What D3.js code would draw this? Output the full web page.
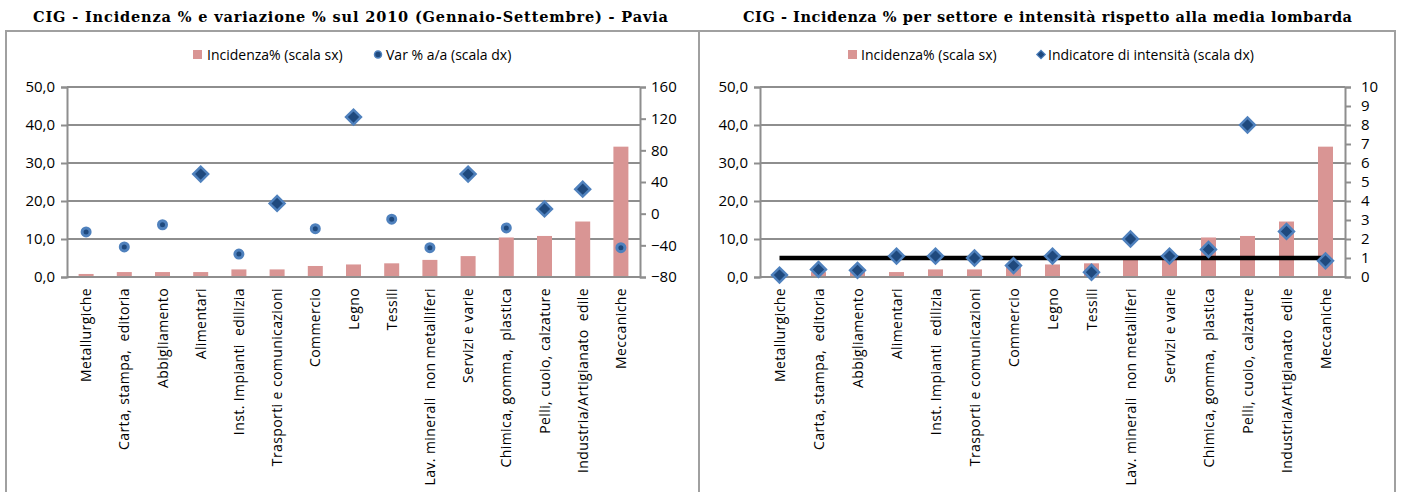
<!DOCTYPE html>
<html>
<head>
<meta charset="utf-8">
<script src="https://cdn.jsdelivr.net/npm/d3@7"></script>
<style>
  body { margin: 0; background: #fff; }
  svg text { font-family: "Open Sans", sans-serif; fill: #000; }
  svg text.title { font-family: "DejaVu Serif", "Liberation Serif", serif; font-weight: bold; font-size: 14.5px; }
</style>
</head>
<body>
<svg width="1402" height="492"></svg>
<script>
// DATA

var categories = ["Metallurgiche", "Carta, stampa,  editoria", "Abbigliamento", "Alimentari",
    "Inst. Impianti  edilizia", "Trasporti e comunicazioni", "Commercio", "Legno", "Tessili",
    "Lav. minerali  non metalliferi", "Servizi e varie", "Chimica, gomma,  plastica",
    "Pelli, cuoio, calzature", "Industria/Artigianato  edile", "Meccaniche"];

var incidenza = [0.8, 1.3, 1.3, 1.3, 2.0, 2.0, 2.9, 3.3, 3.6, 4.5, 5.5, 10.4, 10.8, 14.6, 34.3];
var varPct = [-23, -42, -14, 50, -51, 13, -19, 122, -7, -43, 50, -18, 6, 31, -43];
var intensita = [0.1, 0.4, 0.35, 1.1, 1.1, 1.0, 0.6, 1.1, 0.25, 2.0, 1.1, 1.45, 8.0, 2.4, 0.85];
var mediaLombarda = 1;

var leftTicks = [0, 10, 20, 30, 40, 50];
var varTicks = [-80, -40, 0, 40, 80, 120, 160];
var intTicks = [0, 1, 2, 3, 4, 5, 6, 7, 8, 9, 10];

var titles = ["CIG - Incidenza % e variazione % sul 2010 (Gennaio-Settembre) - Pavia",
    "CIG - Incidenza % per settore e intensità rispetto alla media lombarda"];

// SETUP

var svg = d3.select("svg"),
    grid = "#8e8e8e",
    pink = "#d99594",
    lightBlue = "#4f81bd",
    darkBlue = "#1f497d",
    it = d3.formatLocale({ decimal: ",", thousands: ".", grouping: [3], currency: ["", "€"] }),
    fmt1 = it.format(".1f");

function diamond(sel, side) {
    sel.append("path")
        .attr("d", d3.symbol(d3.symbolSquare, side * side)())
        .attr("transform", "rotate(45)")
        .attr("fill", darkBlue)
        .attr("stroke", lightBlue)
        .attr("stroke-width", 2.5);
}

function circle(sel) {
    sel.append("circle")
        .attr("r", 4)
        .attr("fill", darkBlue)
        .attr("stroke", lightBlue)
        .attr("stroke-width", 3);
}

function styleAxis(g) {
    g.select(".domain").attr("stroke", grid).attr("stroke-width", 2);
    g.selectAll(".tick line").attr("stroke", grid).attr("stroke-width", 2);
    g.selectAll(".tick text")
        .style("font-family", "'Open Sans', sans-serif")
        .style("font-size", "15px");
}

function panel(opt) {
    var p = svg.append("g");

    p.append("rect")
        .attr("x", opt.frame[0]).attr("y", 31)
        .attr("width", opt.frame[1] - opt.frame[0]).attr("height", 480)
        .attr("fill", "none").attr("stroke", "#a0a0a0").attr("stroke-width", 2);

    p.append("text")
        .attr("class", "title")
        .attr("x", opt.titleX[0]).attr("y", 22)
        .attr("textLength", opt.titleX[1] - opt.titleX[0])
        .attr("lengthAdjust", "spacing")
        .text(opt.title);

    var x = d3.scaleBand().domain(categories).range([opt.x0, opt.x1]),
        y = d3.scaleLinear().domain([0, 50]).range([277, 87]),
        y2 = d3.scaleLinear().domain(opt.y2domain).range([277, 87]);

    // gridlines + left axis
    var ga = p.append("g")
        .attr("transform", "translate(" + opt.x0 + ",0)")
        .call(d3.axisLeft(y).tickValues(leftTicks).tickFormat(fmt1).tickSizeOuter(0).tickSize(6).tickPadding(6));
    styleAxis(ga);

    p.append("g").selectAll("line")
        .data(leftTicks)
        .enter().append("line")
        .attr("x1", opt.x0).attr("x2", opt.x1)
        .attr("y1", function (d) { return y(d); })
        .attr("y2", function (d) { return y(d); })
        .attr("stroke", grid).attr("stroke-width", 2);

    var gb = p.append("g")
        .attr("transform", "translate(" + opt.x1 + ",0)")
        .call(d3.axisRight(y2).tickValues(opt.y2ticks).tickSizeOuter(0).tickSize(6).tickPadding(opt.pad2));
    styleAxis(gb);

    // bars
    p.append("g").selectAll("rect")
        .data(incidenza)
        .enter().append("rect")
        .attr("x", function (d, i) { return x(categories[i]) + x.bandwidth() / 2 - 7.5; })
        .attr("y", function (d) { return y(d); })
        .attr("width", 15)
        .attr("height", function (d) { return y(0) - y(d); })
        .attr("fill", pink);

    // redraw zero line over bars
    p.append("line")
        .attr("x1", opt.x0).attr("x2", opt.x1)
        .attr("y1", y(0)).attr("y2", y(0))
        .attr("stroke", grid).attr("stroke-width", 2);

    // category labels
    p.append("g").selectAll("text")
        .data(categories)
        .enter().append("text")
        .attr("text-anchor", "end")
        .attr("transform", function (d) {
            return "translate(" + (x(d) + x.bandwidth() / 2 + 5) + ",288) rotate(-90)";
        })
        .style("white-space", "pre")
        .style("font-size", "14px")
        .style("letter-spacing", "0.4px")
        .text(function (d) { return d; });

    return { g: p, x: x, y: y, y2: y2 };
}

function legendText(g, x, label) {
    g.append("text").attr("x", x).attr("y", 59.5)
        .style("font-size", "14px")
        .text(label);
}

// LEFT CHART

var left = panel({
    frame: [6, 699], titleX: [33, 668], title: titles[0],
    x0: 67, x1: 640, y2domain: [-80, 160], y2ticks: varTicks, pad2: 5
});

left.g.append("g").selectAll("g")
    .data(varPct)
    .enter().append("g")
    .attr("transform", function (d, i) {
        return "translate(" + (left.x(categories[i]) + left.x.bandwidth() / 2) + "," + left.y2(d) + ")";
    })
    .each(function (d) {
        if (d >= 0) diamond(d3.select(this), 10.5);
        else circle(d3.select(this));
    });

var lg1 = left.g.append("g");
lg1.append("rect").attr("x", 193).attr("y", 50).attr("width", 9).attr("height", 9).attr("fill", pink);
legendText(lg1, 207, "Incidenza% (scala sx)");
lg1.append("circle").attr("cx", 378).attr("cy", 54.5).attr("r", 3.5)
    .attr("fill", darkBlue).attr("stroke", lightBlue).attr("stroke-width", 1.5);
legendText(lg1, 386, "Var % a/a (scala dx)");

// RIGHT CHART

var right = panel({
    frame: [699, 1395], titleX: [743, 1352], title: titles[1],
    x0: 760, x1: 1345, y2domain: [0, 10], y2ticks: intTicks, pad2: 10
});

var xr = right.x, half = xr.bandwidth() / 2;

right.g.append("line")
    .attr("x1", xr(categories[0]) + half)
    .attr("x2", xr(categories[categories.length - 1]) + half)
    .attr("y1", right.y2(mediaLombarda)).attr("y2", right.y2(mediaLombarda))
    .attr("stroke", "#000").attr("stroke-width", 4.5);

right.g.append("g").selectAll("g")
    .data(intensita)
    .enter().append("g")
    .attr("transform", function (d, i) {
        return "translate(" + (xr(categories[i]) + half) + "," + right.y2(d) + ")";
    })
    .each(function () { diamond(d3.select(this), 10.5); });

var lg2 = right.g.append("g");
lg2.append("rect").attr("x", 848).attr("y", 50).attr("width", 9).attr("height", 9).attr("fill", pink);
legendText(lg2, 861, "Incidenza% (scala sx)");
lg2.append("g").attr("transform", "translate(1041,54.5)")
    .append("path")
    .attr("d", d3.symbol(d3.symbolSquare, 36)())
    .attr("transform", "rotate(45)")
    .attr("fill", darkBlue).attr("stroke", lightBlue).attr("stroke-width", 1.2);
legendText(lg2, 1048, "Indicatore di intensità  (scala dx)");
</script>
</body>
</html>
